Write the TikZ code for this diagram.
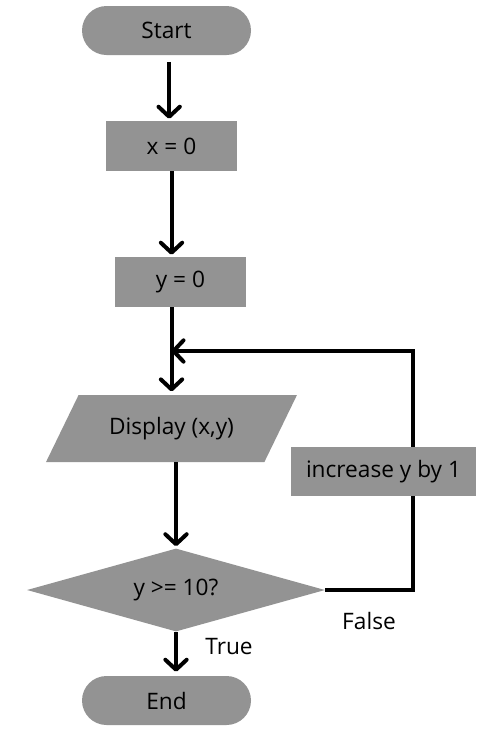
\documentclass[tikz,border=0pt]{standalone}
\usepackage{fontspec}
\setmainfont{Open Sans}
\usetikzlibrary{arrows.meta,shapes.geometric,shapes.misc,positioning}
\definecolor{BoxG}{RGB}{147,147,147}

\begin{document}
\begin{tikzpicture}[x=0.75pt,y=-0.75pt,
    box/.style={fill=BoxG,font=\fontsize{17}{20}\selectfont,inner sep=0pt},
    term/.style={box,rounded rectangle,minimum width=126.75pt,minimum height=36.75pt},
    proc/.style={box,rectangle,minimum width=98.25pt,minimum height=37.5pt},
    flow/.style={line width=3pt,shorten >=1.5pt,
      -{Straight Barb[length=7.5pt,width=16pt,round]}},
    lbl/.style={font=\fontsize{17}{20}\selectfont}]
  \useasboundingbox (0,0) rectangle (496,740);

  \node[term] (start) at (166.5,30.5) {Start};
  \node[proc] (xset) at (171.5,146) {x = 0};
  \node[proc] (yset) at (180.5,282) {y = 0};
  \node[box,trapezium,trapezium left angle=46,trapezium right angle=134,
    trapezium stretches=true,minimum width=188.25pt,minimum height=50.25pt]
    (show) at (171.5,428.5) {Display (x,y)};
  \node[box,diamond,aspect=3.6,minimum width=223.5pt,minimum height=62.25pt]
    (test) at (176,590) {y >= 10?};
  \node[proc,minimum width=138.75pt,minimum height=36.75pt]
    (incr) at (383.5,471.5) {increase y by 1};
  \node[term] (stop) at (166.5,700.5) {End};

  \coordinate (loop) at (413,351);

  \draw[flow,shorten <=5pt] ([xshift=2pt]start.south) -- ([xshift=2pt]start.south |- xset.north);
  \draw[flow] (xset.south) -- (xset.south |- yset.north);
  \draw[flow,shorten >=2.5pt] (yset.south -| show.north) -- (show.north);
  \draw[flow] (show.south -| test.north) -- (test.north);
  \draw[flow,shorten >=3pt] (test.south) -- (test.south |- stop.north);

  \draw[line width=3pt] (test.east) -| (loop |- incr.south);
  \draw[line width=3pt,-{Straight Barb[length=7.5pt,width=16pt,round]}]
    (loop |- incr.north) |- (loop -| show.north);

  \node[lbl] (yes) at (229,647) {True};
  \node[lbl] (no) at (369,621) {False};
\end{tikzpicture}
\end{document}
